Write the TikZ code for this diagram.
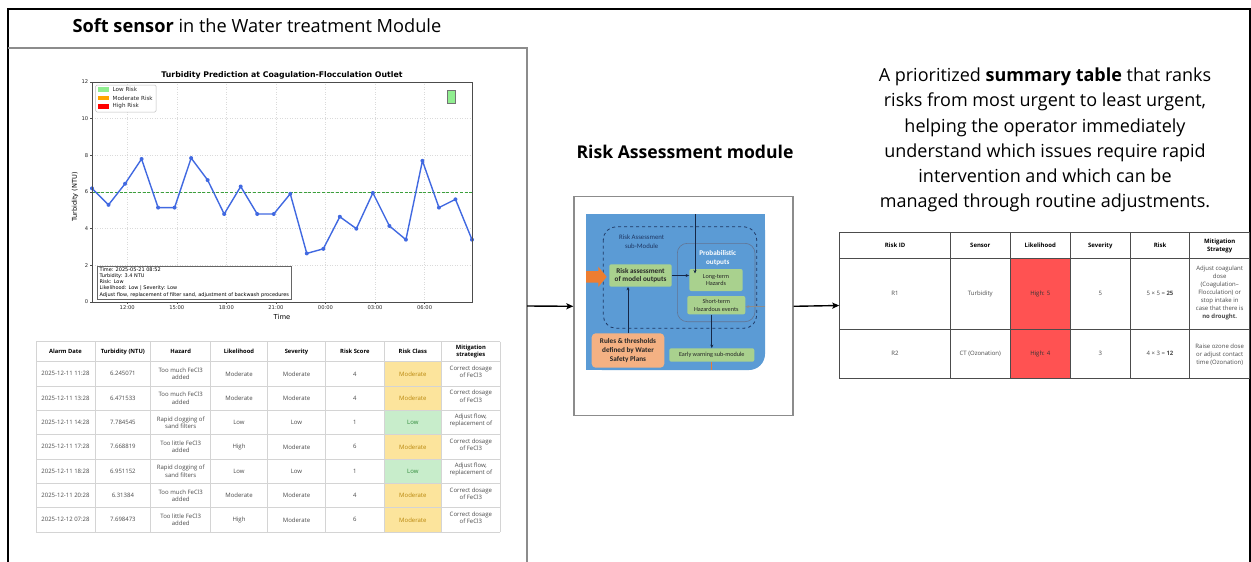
\documentclass[tikz,border=0pt]{standalone}
\usepackage{fontspec}
\setmainfont{Open Sans}
\newfontfamily\plotfont{DejaVu Sans}
\newfontfamily\officefont{Carlito}
\usetikzlibrary{arrows.meta}

\newcommand\fsz[2]{\fontsize{#1}{#2}\selectfont}

\definecolor{panelgray}{HTML}{8C8C8C}
\definecolor{gridgray}{HTML}{DADADA}
\definecolor{plotblue}{HTML}{4169E1}
\definecolor{limitgreen}{HTML}{3CA03C}
\definecolor{lowrisk}{HTML}{90EE90}
\definecolor{modrisk}{HTML}{FFA500}
\definecolor{highrisk}{HTML}{FF0000}
\definecolor{modfill}{HTML}{FCE49C}
\definecolor{modtext}{HTML}{B8860B}
\definecolor{lowfill}{HTML}{C8EDCB}
\definecolor{lowtext}{HTML}{2F8A3A}
\definecolor{tabline}{HTML}{D4D4D4}
\definecolor{tabtext}{HTML}{4A4A4A}
\definecolor{likered}{HTML}{FF5252}
\definecolor{wsblue}{HTML}{5B9BD5}
\definecolor{wsgreen}{HTML}{A9D18E}
\definecolor{wsorange}{HTML}{ED7D31}
\definecolor{wspeach}{HTML}{F4B183}
\definecolor{wsnavy}{HTML}{1F3864}

% mitigation text and class label per risk class
\newcommand\mitmod{Correct dosage\\of FeCl3}
\newcommand\mitlow{Adjust flow,\\replacement of}
\newcommand\labmod{Moderate}
\newcommand\lablow{Low}

% one row of the alarm table: id, y, date, turbidity, hazard, likelihood, severity, score, class
\newcommand\alarmrow[9]{%
  \fill[#9fill] (384,{#2-12.15}) rectangle (441.7,{#2+12.15});
  \node[lcell] (a#1date) at (65.5,#2) {#3};
  \node[lcell] (a#1turb) at (122.85,#2) {#4};
  \node[lcell] (a#1haz) at (180.7,#2) {#5};
  \node[lcell] (a#1lik) at (239,#2) {#6};
  \node[lcell] (a#1sev) at (296.5,#2) {#7};
  \node[lcell] (a#1score) at (354.85,#2) {#8};
  \node[lcell,text=#9text] (a#1class) at (412.85,#2) {\csname lab#9\endcsname};
  \node[lcell] (a#1mit) at (470.85,{#2-2}) {\csname mit#9\endcsname};
}

\begin{document}
\begin{tikzpicture}[x=1pt,y=-1pt,
  panel/.style={draw=panelgray,line width=1.3pt},
  flow/.style={-{Stealth[length=7pt,width=6pt,inset=1.5pt]},line width=1.4pt},
  tick/.style={font=\plotfont\fsz{5.2}{6},inner sep=0,text=black!85},
  lcell/.style={font=\fsz{6}{7.4},text=tabtext,align=center,inner sep=0},
  lhead/.style={font=\bfseries\fsz{5.8}{7.4},text=black,align=center,inner sep=0},
  rcell/.style={font=\fsz{6}{8},text=tabtext,align=center,inner sep=0},
  rhead/.style={font=\bfseries\fsz{6}{8},text=black,align=center,inner sep=0},
  wsbox/.style={fill=wsgreen,rounded corners=2pt,inner sep=0,align=center,font=\officefont\fsz{6.2}{7.7},text=black!85},
  wsarrow/.style={-{Stealth[length=3.5pt,width=3pt]},line width=0.8pt,draw=wsnavy!70!black}]
\useasboundingbox (0,0) rectangle (1251,562);
\fill[white] (0,0) rectangle (1251,562);

% outer frame, open at the bottom
\draw[line width=1.6pt] (8,562) -- (8,9) -- (1250,9) -- (1250,562);

% ---------------- soft sensor panel ----------------
\node[anchor=west,font=\fsz{18.2}{21}] (sstitle) at (69,26) {\textbf{Soft sensor} in the Water treatment Module};
\draw[panel] (8,48) -- (527,48) -- (527,562);
\coordinate (ssout) at (527,306);

% turbidity chart
\begin{scope}[shift={(92pt,-302pt)},x=16.5217pt,y=18.3333pt]
  \foreach \v in {2,4,6,8,10}
    \draw[gridgray,dotted,line width=0.5pt] (0,\v) -- (23,\v);
  \foreach \k in {0,...,6}
    \draw[gridgray,dotted,line width=0.5pt] ({2.13+3*\k},0) -- ({2.13+3*\k},12);
  \draw[limitgreen,line width=1pt,dash pattern=on 3pt off 1.6pt] (0,6) -- (23,6);
  \draw[plotblue,line width=1.4pt,line join=round] plot coordinates {
    (0,6.2) (1,5.3) (2,6.45) (3,7.8) (4,5.15) (5,5.15) (6,7.85) (7,6.65)
    (8,4.8) (9,6.3) (10,4.8) (11,4.8) (12,5.9) (13,2.65) (14,2.9) (15,4.65)
    (16,4.0) (17,5.95) (18,4.15) (19,3.4) (20,7.7) (21,5.15) (22,5.6) (23,3.4)};
  \foreach \i/\v in {0/6.2,1/5.3,2/6.45,3/7.8,4/5.15,5/5.15,6/7.85,7/6.65,
    8/4.8,9/6.3,10/4.8,11/4.8,12/5.9,13/2.65,14/2.9,15/4.65,
    16/4.0,17/5.95,18/4.15,19/3.4,20/7.7,21/5.15,22/5.6,23/3.4}
    \fill[plotblue] (\i,\v) circle (2pt);
  \draw[black!70,line width=0.8pt] (0,0) rectangle (23,12);
  \foreach \v in {0,2,...,12} {
    \draw[black!70,line width=0.5pt] (0,\v) -- ++(-2pt,0);
    \node[tick,anchor=east] (yt\v) at ([xshift=-3.5pt]0,\v) {\v};
  }
  \foreach \k/\lab in {0/12:00,1/15:00,2/18:00,3/21:00,4/00:00,5/03:00,6/06:00} {
    \draw[black!70,line width=0.5pt] ({2.13+3*\k},0) -- ++(0,-2pt);
    \node[tick,anchor=north] (xt\k) at ([yshift=-3.5pt]{2.13+3*\k},0) {\lab};
  }
  \node[font=\plotfont\bfseries\fsz{7.8}{9},anchor=south,inner sep=0] (charttitle)
    at ([yshift=2.5pt]11.5,12) {Turbidity Prediction at Coagulation-Flocculation Outlet};
\end{scope}
\node[font=\plotfont\fsz{6.6}{8},rotate=90,inner sep=0] (ylab) at (75,197) {Turbidity (NTU)};
\node[font=\plotfont\fsz{6.8}{8},inner sep=0] (xlab) at (282,316.5) {Time};

% legend
\draw[black!25,fill=white,rounded corners=1.2pt,line width=0.5pt] (95.7,85) rectangle (156,112);
\foreach \c/\t/\y in {lowrisk/Low Risk/89.7,modrisk/Moderate Risk/98,highrisk/High Risk/106.3} {
  \fill[\c] (97.8,{\y-2.3}) rectangle (109,{\y+2.3});
  \node[font=\plotfont\fsz{5.6}{6},anchor=west,inner sep=0,text=black!85] (lg\y) at (112.5,\y) {\t};
}
\draw[black!55,fill=lowrisk,line width=0.5pt] (447.7,90.3) rectangle (455,103);

% hover annotation
\node[draw=black!60,fill=white,line width=0.6pt,anchor=north west,align=left,inner xsep=2pt,inner ysep=1.8pt,
  font=\plotfont\fsz{5}{6.1}] (hover) at (97.3,265.7)
  {Time: 2025-05-21 08:52\\Turbidity: 3.4 NTU\\Risk: Low\\Likelihood: Low | Severity: Low\\
   Adjust flow, replacement of filter sand, adjustment of backwash procedures};

% alarm table
\node[lhead] (hdate) at (65.5,351.7) {Alarm Date};
\node[lhead] (hturb) at (122.85,351.7) {Turbidity (NTU)};
\node[lhead] (hhaz) at (180.7,351.7) {Hazard};
\node[lhead] (hlik) at (239,351.7) {Likelihood};
\node[lhead] (hsev) at (296.5,351.7) {Severity};
\node[lhead] (hscore) at (354.85,351.7) {Risk Score};
\node[lhead] (hclass) at (412.85,351.7) {Risk Class};
\node[lhead] (hmit) at (470.85,351.7) {Mitigation\\strategies};
\alarmrow{1}{373.85}{2025-12-11 11:28}{6.245071}{Too much FeCl3\\added}{Moderate}{Moderate}{4}{mod}
\alarmrow{2}{398.15}{2025-12-11 13:28}{6.471533}{Too much FeCl3\\added}{Moderate}{Moderate}{4}{mod}
\alarmrow{3}{422.5}{2025-12-11 14:28}{7.784545}{Rapid clogging of\\sand filters}{Low}{Low}{1}{low}
\alarmrow{4}{446.85}{2025-12-11 17:28}{7.668819}{Too little FeCl3\\added}{High}{Moderate}{6}{mod}
\alarmrow{5}{471.15}{2025-12-11 18:28}{6.951152}{Rapid clogging of\\sand filters}{Low}{Low}{1}{low}
\alarmrow{6}{495.5}{2025-12-11 20:28}{6.31384}{Too much FeCl3\\added}{Moderate}{Moderate}{4}{mod}
\alarmrow{7}{519.85}{2025-12-12 07:28}{7.698473}{Too little FeCl3\\added}{High}{Moderate}{6}{mod}
\foreach \x in {36,95,150.7,210.7,267.3,325.7,384,441.7,500}
  \draw[tabline,line width=0.6pt] (\x,341.7) -- (\x,532);
\foreach \y in {341.7,361.7,386,410.3,434.7,459,483.3,507.7,532}
  \draw[tabline,line width=0.6pt] (36,\y) -- (500,\y);

% ---------------- risk assessment module ----------------
\node[font=\bfseries\fsz{17.6}{20}] (ratitle) at (685,152) {Risk Assessment module};
\node[draw=panelgray,line width=1.3pt,minimum width=219pt,minimum height=219pt,inner sep=0] (midbox) at (683.5,306.3) {};

% water safety block diagram
\fill[wsblue,rounded corners=16pt] (586,214.3) rectangle (765,370);
\fill[wsblue] (586,214.3) rectangle (720,370);
\fill[wsblue] (586,214.3) rectangle (765,330);
\draw[wsnavy,dashed,line width=0.8pt,rounded corners=13pt] (603.3,226.7) rectangle (756.7,328.3);
\draw[wsnavy!70,line width=0.6pt,rounded corners=10pt] (677.3,243.3) rectangle (755,321.7);
\node[font=\officefont\fsz{6.8}{9.3},text=wsnavy,align=center,inner sep=0] (rasub) at (641.7,242) {Risk Assessment\\sub-Module};
\node[font=\officefont\bfseries\fsz{7.2}{9},text=white,align=center,inner sep=0] (probout) at (717.7,257.8) {Probabilistic\\outputs};
\node[wsbox,minimum width=53.4pt,minimum height=22pt] (longterm) at (716,280) {Long-term\\Hazards};
\node[wsbox,minimum width=58pt,minimum height=18.3pt] (shortterm) at (716.3,305.2) {Short-term\\Hazardous events};
\node[wsbox,minimum width=62.4pt,minimum height=22.4pt,font=\officefont\bfseries\fsz{7.2}{8.7}] (raout) at (640.5,275.5) {Risk assessment\\of model outputs};
\node[wsbox,fill=wspeach,rounded corners=4pt,minimum width=72.6pt,minimum height=34.4pt,font=\officefont\bfseries\fsz{7.2}{9.2}] (rules) at (628,350.5) {Rules \& thresholds\\defined by Water\\Safety Plans};
\node[wsbox,minimum width=85pt,minimum height=13.4pt] (earlywarn) at (711.8,355) {Early warning sub-module};
\fill[wsorange] (586,271) -- (598.3,271) -- (598.3,266.7) -- (606.7,276.8) -- (598.3,286.9) -- (598.3,282.7) -- (586,282.7) -- cycle;
\coordinate (topin) at (695,214.3);
\coordinate (ltin) at (695,273.5);
\coordinate (rightin) at (765,306.7);
\coordinate (bluebottom) at (711.8,370);
\draw[wsarrow] (topin) -- (ltin);
\draw[wsarrow] (raout.east) -- (longterm.west |- raout.east);
\draw[wsarrow] (rules.north) -- (rules.north |- raout.south);
\draw[wsarrow] (shortterm.south -| earlywarn.north) -- (earlywarn.north);
\draw[wsarrow,draw=black!45] (rightin) -- (shortterm.east |- rightin);
\draw[wsorange,line width=1.2pt] (earlywarn.south) -- (bluebottom);

% ---------------- summary table ----------------
\node[align=center,font=\fsz{18}{25.3}] (summary) at (1045,140)
  {A prioritized \textbf{summary table} that ranks\\risks from most urgent to least urgent,\\helping the operator immediately\\understand which issues require rapid\\intervention and which can be\\managed through routine adjustments.};
\node[draw=black!70,line width=0.8pt,minimum width=410pt,minimum height=145.6pt,inner sep=0] (rtab) at (1044.7,305.5) {};
\fill[likered] (1010.3,258.3) rectangle (1070.3,378.3);
\foreach \x in {950.3,1010.3,1070.3,1130.3,1189.7}
  \draw[black!70,line width=0.8pt] (\x,232.7) -- (\x,378.3);
\foreach \y in {258.3,329.3}
  \draw[black!70,line width=0.8pt] (839.7,\y) -- (1249.7,\y);
\draw[black!70,line width=0.8pt] (839.7,232.7) rectangle (1249.7,378.3);
\node[rhead] (hrid) at (895,245.5) {Risk ID};
\node[rhead] (hrsens) at (980.3,245.5) {Sensor};
\node[rhead] (hrlik) at (1040.3,245.5) {Likelihood};
\node[rhead] (hrsev) at (1100.3,245.5) {Severity};
\node[rhead] (hrrisk) at (1160,245.5) {Risk};
\node[rhead] (hrmit) at (1219.7,245.5) {Mitigation\\Strategy};
\node[rcell] (r1id) at (895,293.8) {R1};
\node[rcell] (r1sens) at (980.3,293.8) {Turbidity};
\node[rcell,text=black!80] (r1lik) at (1040.3,293.8) {High: 5};
\node[rcell] (r1sev) at (1100.3,293.8) {5};
\node[rcell] (r1risk) at (1160,293.8) {5 × 5 = \textbf{25}};
\node[rcell] (r1mit) at (1219.7,293.2) {Adjust coagulant\\dose\\(Coagulation–\\Flocculation) or\\stop intake in\\case that there is\\\textbf{no drought.}};
\node[rcell] (r2id) at (895,353.8) {R2};
\node[rcell] (r2sens) at (980.3,353.8) {CT (Ozonation)};
\node[rcell,text=black!80] (r2lik) at (1040.3,353.8) {High: 4};
\node[rcell] (r2sev) at (1100.3,353.8) {3};
\node[rcell] (r2risk) at (1160,353.8) {4 × 3 = \textbf{12}};
\node[rcell] (r2mit) at (1219.7,354.2) {Raise ozone dose\\or adjust contact\\time (Ozonation)};

% flow between the three stages
\draw[flow] (ssout) -- (midbox.west);
\draw[flow] (midbox.east) -- (rtab.west);
\end{tikzpicture}
\end{document}
